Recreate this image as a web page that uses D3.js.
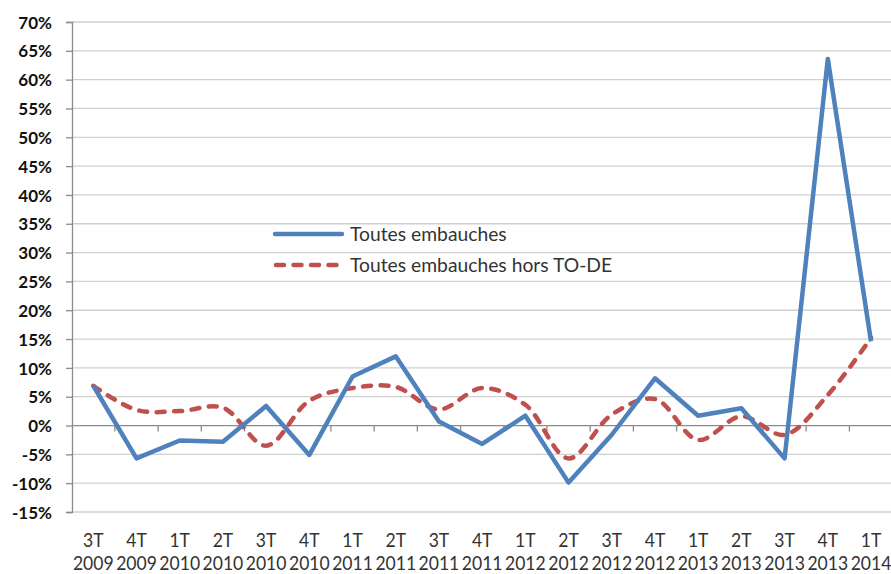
<!DOCTYPE html>
<html>
<head>
<meta charset="utf-8">
<script src="https://cdn.jsdelivr.net/npm/d3@7"></script>
<style>
  body { margin: 0; background: #fff; }
  svg { display: block; }
</style>
</head>
<body>
<div id="chart"></div>
<script>
// Chart size
const width = 891;
const height = 574;

// Data
const quarters = ["3T", "4T", "1T", "2T", "3T", "4T", "1T", "2T", "3T", "4T",
                  "1T", "2T", "3T", "4T", "1T", "2T", "3T", "4T", "1T"];
const years = ["2009", "2009", "2010", "2010", "2010", "2010", "2011", "2011", "2011", "2011",
               "2012", "2012", "2012", "2012", "2013", "2013", "2013", "2013", "2014"];
const toutes = [6.9, -5.7, -2.6, -2.8, 3.4, -5.1, 8.5, 12.0, 0.7, -3.2,
                1.7, -9.9, -1.6, 8.2, 1.7, 3.0, -5.7, 63.6, 14.6];
const horsTODE = [6.9, 2.7, 2.5, 3.1, -3.5, 4.3, 6.5, 6.7, 2.8, 6.5,
                  3.6, -5.7, 1.9, 4.6, -2.5, 1.6, -1.6, 5.3, 15.2];
const yTicks = [-15, -10, -5, 0, 5, 10, 15, 20, 25, 30, 35, 40, 45, 50, 55, 60, 65, 70];
const seriesNames = ["Toutes embauches", "Toutes embauches hors TO-DE"];

const svg = d3.select("#chart").append("svg")
    .attr("width", width)
    .attr("height", height);

// plot area edges
const plotLeft = 72, plotRight = 891, plotTop = 22, plotBottom = 512;

const x = d3.scalePoint()
    .domain(d3.range(quarters.length))
    .range([93.3, 871]);
const step = x.step();

const y = d3.scaleLinear()
    .domain([-15, 70])
    .range([plotBottom, plotTop]);

// Horizontal gridlines
svg.append("g")
    .selectAll("line")
    .data(yTicks.filter(d => d !== 0))
    .enter().append("line")
    .attr("x1", plotLeft).attr("x2", plotRight)
    .attr("y1", d => y(d)).attr("y2", d => y(d))
    .attr("stroke", "#d0d0d0")
    .attr("stroke-width", 1.3);

// Y axis
const yAxis = svg.append("g")
    .attr("transform", `translate(${plotLeft},0)`)
    .call(d3.axisLeft(y).tickValues(yTicks).tickSize(6).tickPadding(14)
        .tickFormat(d => d + "%"));
yAxis.select(".domain").attr("stroke", "#8c8c8c").attr("stroke-width", 1.3);
yAxis.selectAll(".tick line").attr("stroke", "#8c8c8c").attr("stroke-width", 1.3);
yAxis.selectAll("text")
    .attr("font-family", "Lato, 'Open Sans', sans-serif")
    .attr("font-weight", "bold")
    .attr("font-size", 17)
    .attr("fill", "#111")
    .attr("dy", "0.36em");

// Zero line with category tick marks
svg.append("line")
    .attr("x1", plotLeft).attr("x2", plotRight)
    .attr("y1", y(0)).attr("y2", y(0))
    .attr("stroke", "#8c8c8c").attr("stroke-width", 1.3);

svg.append("g")
    .selectAll("line")
    .data(d3.range(1, quarters.length))
    .enter().append("line")
    .attr("x1", i => x(i) - step / 2).attr("x2", i => x(i) - step / 2)
    .attr("y1", y(0)).attr("y2", y(0) + 6)
    .attr("stroke", "#8c8c8c").attr("stroke-width", 1.3);

// X labels (two rows), slightly narrowed to mimic the original font
const xl = svg.append("g")
    .attr("font-family", "Lato, 'Open Sans', sans-serif")
    .attr("font-size", 19.5)
    .attr("fill", "#333")
    .attr("text-anchor", "middle");
xl.selectAll(".q")
    .data(quarters)
    .enter().append("text")
    .attr("class", "q")
    .attr("transform", (d, i) => `translate(${x(i)},546.7) scale(0.9,1)`)
    .text(d => d);
xl.selectAll(".yr")
    .data(years)
    .enter().append("text")
    .attr("class", "yr")
    .attr("transform", (d, i) => `translate(${x(i)},570) scale(0.9,1)`)
    .text(d => d);

// Lines
const lineStraight = d3.line()
    .x((d, i) => x(i))
    .y(d => y(d));
const lineSmooth = d3.line()
    .x((d, i) => x(i))
    .y(d => y(d))
    .curve(d3.curveCatmullRom.alpha(0.5));

svg.append("path")
    .datum(horsTODE)
    .attr("d", lineSmooth)
    .attr("fill", "none")
    .attr("stroke", "#C0504D")
    .attr("stroke-width", 4.5)
    .attr("stroke-linecap", "round")
    .attr("stroke-dasharray", "8,9.5");

svg.append("path")
    .datum(toutes)
    .attr("d", lineStraight)
    .attr("fill", "none")
    .attr("stroke", "#4F81BD")
    .attr("stroke-width", 4.5)
    .attr("stroke-linejoin", "round");

// Legend
const legend = svg.append("g")
    .attr("font-family", "Lato, 'Open Sans', sans-serif")
    .attr("font-size", 19.3)
    .attr("fill", "#333");
const legendY = [234, 265];
legend.append("line")
    .attr("x1", 275).attr("x2", 342)
    .attr("y1", legendY[0]).attr("y2", legendY[0])
    .attr("stroke", "#4F81BD").attr("stroke-width", 4.5)
    .attr("stroke-linecap", "round");
legend.append("line")
    .attr("x1", 276).attr("x2", 343)
    .attr("y1", legendY[1]).attr("y2", legendY[1])
    .attr("stroke", "#C0504D").attr("stroke-width", 4.5)
    .attr("stroke-linecap", "round")
    .attr("stroke-dasharray", "8,9.5");
legend.selectAll("text")
    .data(seriesNames)
    .enter().append("text")
    .attr("x", 350)
    .attr("y", (d, i) => legendY[i] + 7)
    .text(d => d);
</script>
</body>
</html>
